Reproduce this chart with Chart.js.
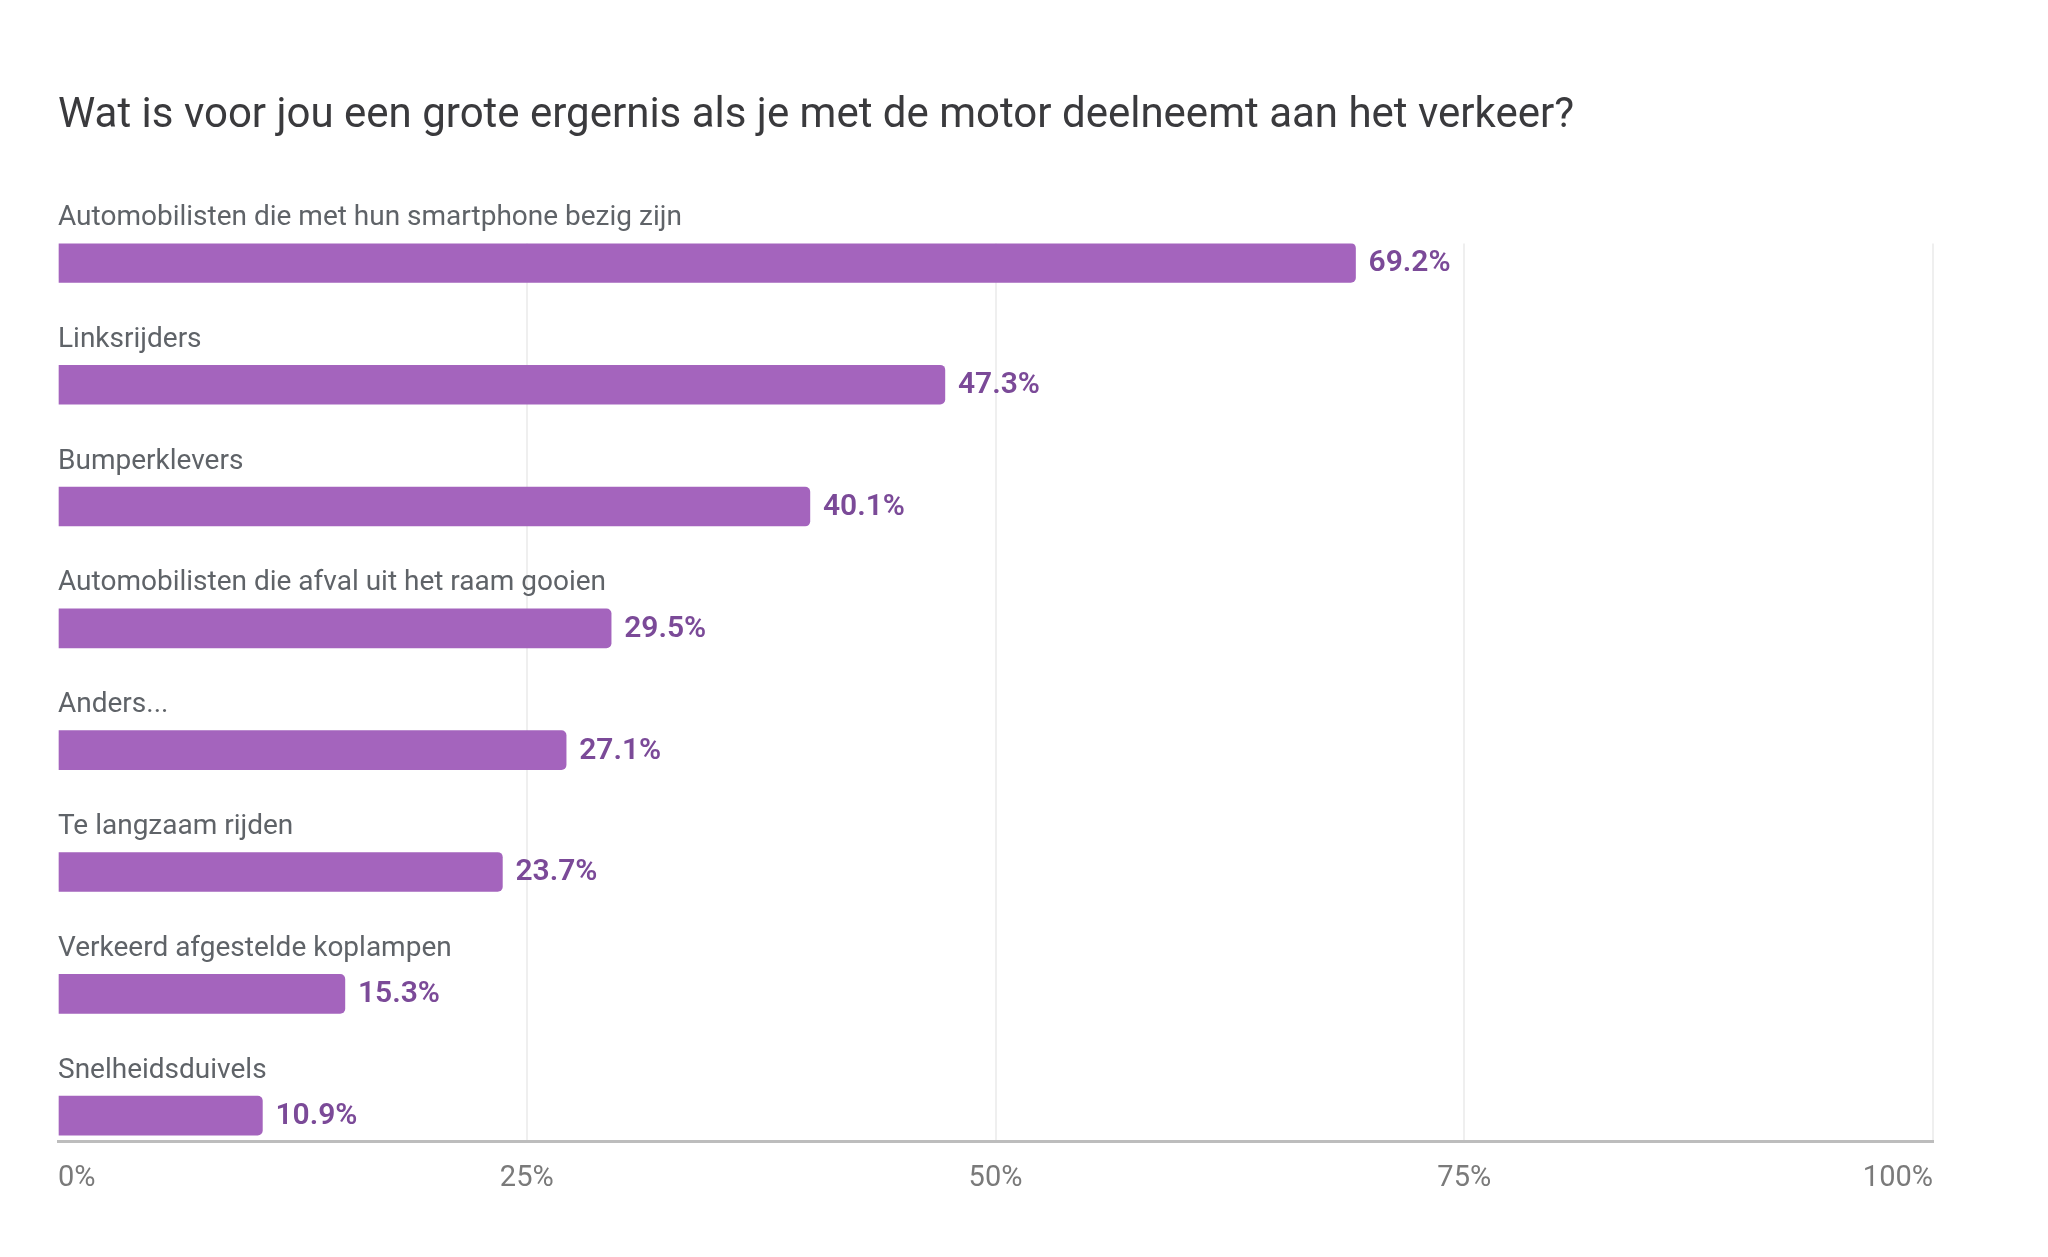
<!DOCTYPE html>
<html>
<head>
<meta charset="utf-8">
<title>Ergernissen motor</title>
<script src="https://cdn.jsdelivr.net/npm/chart.js@4.4.1/dist/chart.umd.min.js"></script>
<style>
    html, body { margin: 0; padding: 0; background: #ffffff; }
    #wrap { width: 2048px; height: 1257px; position: relative; }
</style>
</head>
<body>
<div id="wrap"><canvas id="chart"></canvas></div>
<script>
const titleText = 'Wat is voor jou een grote ergernis als je met de motor deelneemt aan het verkeer?';
const categories = [
    'Automobilisten die met hun smartphone bezig zijn',
    'Linksrijders',
    'Bumperklevers',
    'Automobilisten die afval uit het raam gooien',
    'Anders...',
    'Te langzaam rijden',
    'Verkeerd afgestelde koplampen',
    'Snelheidsduivels'
];
const percentages = [69.2, 47.3, 40.1, 29.5, 27.1, 23.7, 15.3, 10.9];
const xTicks = [0, 25, 50, 75, 100];

const FONT = 'Roboto, "Noto Sans", sans-serif';

// labels boven de balken en percentages ernaast
const barLabels = {
    id: 'barLabels',
    afterDatasetsDraw(chart) {
        const ctx = chart.ctx;
        const meta = chart.getDatasetMeta(0);
        ctx.save();
        meta.data.forEach(function (bar, i) {
            ctx.textBaseline = 'middle';
            ctx.textAlign = 'left';
            ctx.font = '400 28px ' + FONT;
            ctx.fillStyle = '#5f6368';
            ctx.fillText(categories[i], chart.chartArea.left, bar.y - 45);

            ctx.font = '600 30px ' + FONT;
            ctx.fillStyle = '#7b4a98';
            ctx.fillText(percentages[i].toFixed(1) + '%', bar.x + 13, bar.y + 1);
        });
        ctx.restore();
    }
};

const ctx = document.getElementById('chart').getContext('2d');
const chart = new Chart(ctx, {
    type: 'bar',
    data: {
        datasets: [{
            label: 'Percentage',
            data: percentages.map((v, i) => ({ x: v, y: i })),
            backgroundColor: '#a464bd',
            borderRadius: 5,
            barThickness: 39
        }]
    },
    options: {
        indexAxis: 'y',
        responsive: true,
        maintainAspectRatio: false,
        animation: false,
        layout: {
            padding: { left: 58, right: 115, top: 91, bottom: 41 }
        },
        plugins: {
            legend: { display: false },
            tooltip: { enabled: false },
            title: {
                display: true,
                text: titleText,
                align: 'start',
                color: '#3a3a3d',
                font: { family: FONT, size: 42, weight: '400', lineHeight: 1.2 },
                padding: { top: 0, bottom: 102 }
            }
        },
        scales: {
            x: {
                type: 'linear',
                min: 0,
                max: 100,
                afterBuildTicks: function (scale) {
                    scale.ticks = xTicks.map(v => ({ value: v }));
                },
                ticks: {
                    align: 'inner',
                    padding: 20,
                    color: '#7a7a7a',
                    font: { family: FONT, size: 29, lineHeight: 1.2 },
                    callback: v => v + '%'
                },
                grid: {
                    drawTicks: false,
                    color: ctx => ctx.tick && ctx.tick.value === 0 ? 'rgba(0,0,0,0)' : '#efefef',
                    lineWidth: 2
                },
                border: { color: '#bdbdbd', width: 3 }
            },
            y: {
                type: 'linear',
                reverse: true,
                offset: false,
                min: -0.16,
                max: 7.21,
                display: false
            }
        }
    },
    plugins: [barLabels]
});
</script>
</body>
</html>
